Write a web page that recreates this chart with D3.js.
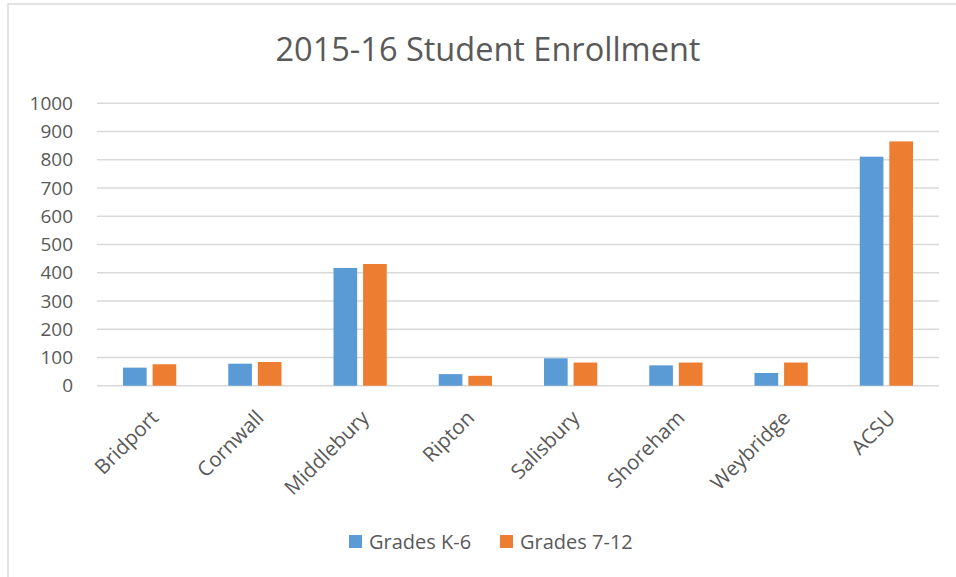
<!DOCTYPE html>
<html>
<head>
<meta charset="utf-8">
<script src="https://cdn.jsdelivr.net/npm/d3@7"></script>
<style>
  body { margin: 0; background: #fff; }
  svg { display: block; font-family: 'Open Sans', sans-serif; }
</style>
</head>
<body>
<main></main>
<script>
const title = '2015-16 Student Enrollment';
const towns = ['Bridport', 'Cornwall', 'Middlebury', 'Ripton', 'Salisbury', 'Shoreham', 'Weybridge', 'ACSU'];
const series = ['Grades K-6', 'Grades 7-12'];
const gradesK6 = [64, 78, 417, 41, 97, 72, 45, 811];
const grades712 = [76, 84, 431, 35, 82, 82, 82, 865];
const yTicks = [0, 100, 200, 300, 400, 500, 600, 700, 800, 900, 1000];
const colors = ['#5b9bd5', '#ed7d31'];

const width = 956;
const height = 577;
const margin = { top: 103.3, right: 17, bottom: 191.3, left: 97 };

const svg = d3.select('main')
  .append('svg')
  .attr('width', width)
  .attr('height', height);

// Chart border
svg.append('rect')
  .attr('x', 8)
  .attr('y', 4)
  .attr('width', width + 10)
  .attr('height', height + 10)
  .attr('fill', 'none')
  .attr('stroke', '#d9d9d9')
  .attr('stroke-width', 1.5);

// Title
svg.append('text')
  .attr('x', 488)
  .attr('y', 61)
  .attr('text-anchor', 'middle')
  .style('font-size', '32.5px')
  .style('fill', '#595959')
  .text(title);

const x = d3.scaleBand()
  .domain(towns)
  .range([margin.left, width - margin.right]);

const xInner = d3.scaleBand()
  .domain(series)
  .range([26, x.bandwidth() - 26])
  .paddingInner(0.2);

const y = d3.scaleLinear()
  .domain([0, 1000])
  .range([height - margin.bottom, margin.top]);

// Gridlines
svg.append('g')
  .selectAll('line')
  .data(yTicks)
  .enter()
  .append('line')
  .attr('x1', margin.left)
  .attr('x2', width - margin.right)
  .attr('y1', d => y(d))
  .attr('y2', d => y(d))
  .attr('stroke', '#d9d9d9')
  .attr('stroke-width', 1.5);

// Y axis labels
const yAxis = svg.append('g')
  .attr('transform', `translate(${margin.left}, 0)`)
  .call(d3.axisLeft(y).tickValues(yTicks).tickFormat(d3.format('d')).tickSize(0).tickPadding(24));
yAxis.select('.domain').remove();
yAxis.selectAll('text')
  .style('font-size', '19px')
  .style('font-family', "'Open Sans', sans-serif")
  .style('fill', '#595959');

// Bars
const values = [gradesK6, grades712];
const groups = svg.append('g')
  .selectAll('g')
  .data(towns)
  .enter()
  .append('g')
  .attr('transform', d => `translate(${x(d)}, 0)`);

groups.selectAll('rect')
  .data((d, i) => series.map((s, j) => ({ s, v: values[j][i], c: colors[j] })))
  .enter()
  .append('rect')
  .attr('x', d => xInner(d.s))
  .attr('width', xInner.bandwidth())
  .attr('y', d => y(d.v))
  .attr('height', d => y(0) - y(d.v))
  .attr('fill', d => d.c);

// Category labels
svg.append('g')
  .selectAll('text')
  .data(towns)
  .enter()
  .append('text')
  .attr('transform', d => `translate(${x(d) + x.bandwidth() / 2}, 409) rotate(-45)`)
  .attr('text-anchor', 'end')
  .attr('dy', '0.7em')
  .style('font-size', '20.5px')
  .style('fill', '#595959')
  .text(d => d);

// Legend
const legendX = [349, 500];
const legend = svg.append('g')
  .selectAll('g')
  .data(series)
  .enter()
  .append('g')
  .attr('transform', (d, i) => `translate(${legendX[i]}, 535)`);

legend.append('rect')
  .attr('width', 13)
  .attr('height', 13)
  .attr('fill', (d, i) => colors[i]);

legend.append('text')
  .attr('x', 20)
  .attr('y', 14)
  .style('font-size', '20px')
  .style('fill', '#595959')
  .text(d => d);
</script>
</body>
</html>
